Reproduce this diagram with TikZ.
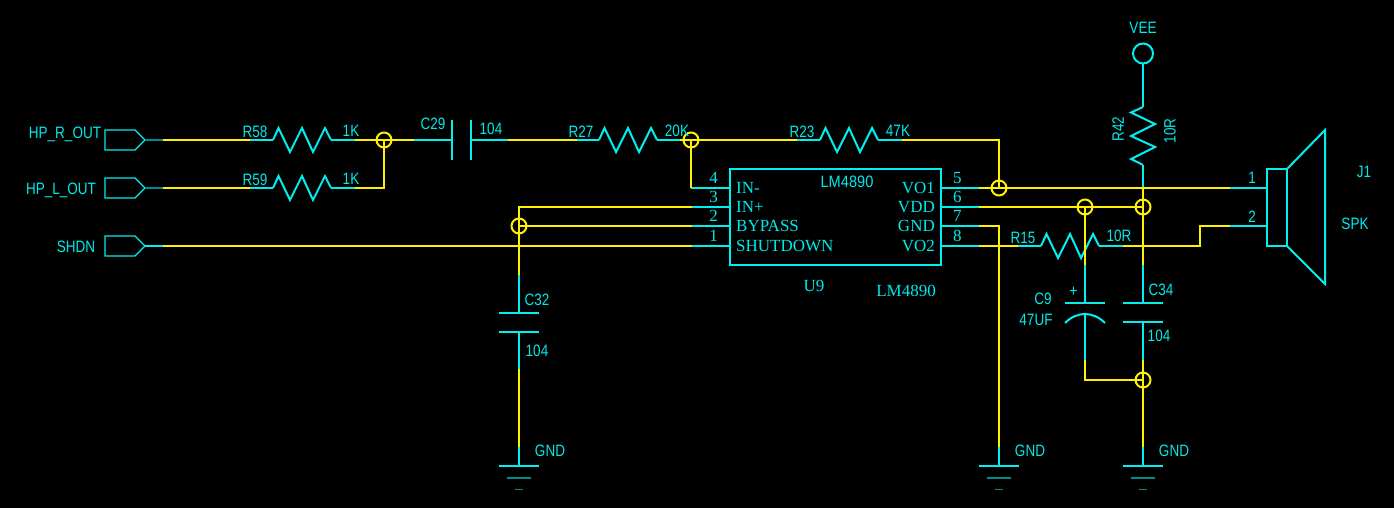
\documentclass[tikz,border=0pt]{standalone}
\usepackage{fontspec}
\usepackage{tikz}
\usetikzlibrary{positioning}
\setmainfont{Liberation Serif}
\newfontfamily\cadfont[FakeStretch=0.82]{Liberation Sans}
\definecolor{partcyan}{HTML}{00F0F0}
\definecolor{textcyan}{HTML}{00EAEA}
\definecolor{stubteal}{HTML}{008C8C}
\tikzset{
  part/.style = {draw=partcyan, line width=2pt},
  wire/.style = {draw=yellow, line width=2pt},
  stub/.style = {draw=stubteal, line width=2pt},
  lbl/.style = {text=textcyan, inner sep=0pt, font=\cadfont\fontsize{16.5}{18}\selectfont},
  pinlbl/.style = {text=textcyan, inner sep=0pt, font=\fontsize{17}{18}\selectfont},
  junction/.style = {circle, draw=yellow, line width=2pt, minimum size=15pt, inner sep=0pt},
  resistor/.pic = {
    \draw[part] (0,0) coordinate (-a) -- (5.5,-12) -- (17,12) -- (29,-12) -- (40,12) -- (52,-12) -- (58,0) coordinate (-b);
  },
  port/.pic = {
    \draw[draw=partcyan, line width=1.3pt] (0,-10) -- (30,-10) -- (40,0) coordinate (-tip) -- (30,10) -- (0,10) -- cycle;
  },
  capacitor/.pic = {
    \draw[part] (-20,-9.5) -- (20,-9.5);
    \draw[part] (-20,9.5) -- (20,9.5);
    \coordinate (-a) at (0,-9.5);
    \coordinate (-b) at (0,9.5);
  },
  polcap/.pic = {
    \draw[part] (-20,-9.5) -- (20,-9.5);
    \draw[part] (-20,10.5) .. controls (-8,-1.5) and (8,-1.5) .. (20,10.5);
    \coordinate (-a) at (0,-9.5);
    \coordinate (-b) at (0,1.5);
  },
  ground/.pic = {
    \coordinate (-a) at (0,0);
    \draw[draw=partcyan, line width=1.3pt] (-20,0) -- (20,0);
    \draw[draw=stubteal, line width=2pt] (-12,12) -- (12,12);
    \draw[draw=stubteal, line width=1.3pt] (-4,23.5) -- (4,23.5);
  }
}
\begin{document}
\begin{tikzpicture}[x=1pt, y=-1pt]
     \fill[black] (0,0) rectangle (1394,508);

     % parts
     \pic (HPR) at (105,140) {port};
     \pic (HPL) at (105,188) {port};
     \pic (SHD) at (105,246) {port};
     \pic (R58) at (273,140) {resistor};
     \pic (R59) at (273,188) {resistor};
     \pic (R27) at (599,140) {resistor};
     \pic (R23) at (820,140) {resistor};
     \pic (R15) at (1041,246) {resistor};
     \pic[rotate=-90, yscale=-1] (R42) at (1143,107) {resistor};
     \pic[rotate=90] (C29) at (461.5,140) {capacitor};
     \pic (C32) at (519,322.5) {capacitor};
     \pic (C34) at (1143,312.5) {capacitor};
     \pic (C9) at (1085,312.5) {polcap};
     \pic (G1) at (519,466) {ground};
     \pic (G2) at (999,466) {ground};
     \pic (G3) at (1143,466) {ground};
     \node[draw=partcyan, line width=2pt, minimum width=211pt, minimum height=96pt, inner sep=0pt] (U9) at (835.5,217) {};
     \node[circle, draw=partcyan, line width=2pt, minimum size=20pt, inner sep=0pt] (VEE) at (1143,53.5) {};
     \draw[part] (1267,169) rectangle (1287,246);
     \draw[part] (1287,169) -- (1325,130) -- (1325,284) -- (1287,246);

     % junctions
     \node[junction] (j1) at (384,140) {};
     \node[junction] (j2) at (691,140) {};
     \node[junction] (j3) at (519,226) {};
     \node[junction] (j4) at (999,188) {};
     \node[junction] (j5) at (1085,207) {};
     \node[junction] (j6) at (1143,207) {};
     \node[junction] (j7) at (1143,380) {};

     % pins on the chip and speaker
     \coordinate (p1) at (730,246);
     \coordinate (p2) at (730,226);
     \coordinate (p3) at (730,207);
     \coordinate (p4) at (730,188);
     \coordinate (p5) at (941,188);
     \coordinate (p6) at (941,207);
     \coordinate (p7) at (941,226);
     \coordinate (p8) at (941,246);
     \coordinate (s1) at (1268,188);
     \coordinate (s2) at (1268,226);

     % points where a line changes colour or turns
     \coordinate (a1) at (163,140);
     \coordinate (a2) at (250,140);
     \coordinate (a3) at (355,140);
     \coordinate (a4) at (414,140);
     \coordinate (b1) at (163,188);
     \coordinate (b2) at (250,188);
     \coordinate (b3) at (355,188);
     \coordinate (b4) at (384,188);
     \coordinate (c1) at (163,246);
     \coordinate (c2) at (692,246);
     \coordinate (d1) at (508,140);
     \coordinate (d2) at (577,140);
     \coordinate (d3) at (680,140);
     \coordinate (d4) at (797,140);
     \coordinate (d5) at (902,140);
     \coordinate (d6) at (999,140);
     \coordinate (e1) at (691,188);
     \coordinate (f1) at (692,207);
     \coordinate (f2) at (519,207);
     \coordinate (f3) at (519,275);
     \coordinate (f4) at (692,226);
     \coordinate (f5) at (519,369);
     \coordinate (f6) at (519,447);
     \coordinate (g1) at (979,188);
     \coordinate (g2) at (1230,188);
     \coordinate (g3) at (979,207);
     \coordinate (g4) at (979,226);
     \coordinate (g5) at (999,226);
     \coordinate (g6) at (999,447);
     \coordinate (g7) at (979,246);
     \coordinate (g8) at (1018,246);
     \coordinate (g9) at (1123,246);
     \coordinate (g10) at (1200,246);
     \coordinate (g11) at (1200,226);
     \coordinate (g12) at (1230,226);
     \coordinate (h1) at (1143,188);
     \coordinate (h2) at (1143,265);
     \coordinate (h3) at (1143,360);
     \coordinate (h4) at (1143,447);
     \coordinate (i1) at (1085,265);
     \coordinate (i2) at (1085,360);
     \coordinate (i3) at (1085,380);

     % cyan leads
     \draw[stub] (HPR-tip) -- (a1);
     \draw[stub] (HPL-tip) -- (b1);
     \draw[part, line width=1.3pt] (SHD-tip) -- (c1);
     \draw[part] (a2) -- (R58-a);
     \draw[part] (R58-b) -- (a3);
     \draw[part] (b2) -- (R59-a);
     \draw[part] (R59-b) -- (b3);
     \draw[part] (a4) -- (C29-a);
     \draw[part] (C29-b) -- (d1);
     \draw[part] (d2) -- (R27-a);
     \draw[part] (R27-b) -- (d3);
     \draw[part] (d4) -- (R23-a);
     \draw[part] (R23-b) -- (d5);
     \draw[part] (e1) -- (p4);
     \draw[part] (f1) -- (p3);
     \draw[part] (f4) -- (p2);
     \draw[part] (c2) -- (p1);
     \draw[part] (p5) -- (g1);
     \draw[part] (p6) -- (g3);
     \draw[part] (p7) -- (g4);
     \draw[part] (p8) -- (g7);
     \draw[part] (g8) -- (R15-a);
     \draw[part] (R15-b) -- (g9);
     \draw[part] (g2) -- (s1);
     \draw[part] (g12) -- (s2);
     \draw[part] (VEE) -- (R42-a);
     \draw[part] (R42-b) -- (h1);
     \draw[part] (f3) -- (C32-a);
     \draw[part] (C32-b) -- (f5);
     \draw[part] (h2) -- (C34-a);
     \draw[part] (C34-b) -- (h3);
     \draw[part] (i1) -- (C9-a);
     \draw[part] (C9-b) -- (i2);
     \draw[part, line width=1.3pt] (f6) -- (G1-a);
     \draw[part, line width=1.3pt] (g6) -- (G2-a);
     \draw[part, line width=1.3pt] (h4) -- (G3-a);

     % yellow nets
     \draw[wire] (a1) -- (a2);
     \draw[wire] (b1) -- (b2);
     \draw[wire] (c1) -- (c2);
     \draw[wire] (a3) -- (j1.center) -- (a4);
     \draw[wire] (b3) -- (b4) -- (j1.center);
     \draw[wire] (d1) -- (d2);
     \draw[wire] (d3) -- (j2.center) -- (d4);
     \draw[wire] (j2.center) -- (e1);
     \draw[wire] (d5) -- (d6) -- (j4.center);
     \draw[wire] (f1) -- (f2) -- (f3);
     \draw[wire] (f4) -- (j3.center);
     \draw[wire] (f5) -- (f6);
     \draw[wire] (g1) -- (j4.center) -- (g2);
     \draw[wire] (g3) -- (j5.center) -- (j6.center);
     \draw[wire] (g4) -- (g5) -- (g6);
     \draw[wire] (g7) -- (g8);
     \draw[wire] (g9) -- (g10) -- (g11) -- (g12);
     \draw[wire] (h1) -- (j6.center) -- (h2);
     \draw[wire] (j5.center) -- (i1);
     \draw[wire] (h3) -- (j7.center) -- (h4);
     \draw[wire] (i2) -- (i3) -- (j7.center);

     % chip texts
     \node[pinlbl] (t1) [right=6pt of p4] {IN-};
     \node[pinlbl] (t2) [right=6pt of p3] {IN+};
     \node[pinlbl] (t3) [right=6pt of p2] {BYPASS};
     \node[pinlbl] (t4) [right=6pt of p1] {SHUTDOWN};
     \node[pinlbl] (t5) [left=6pt of p5] {VO1};
     \node[pinlbl] (t6) [left=6pt of p6] {VDD};
     \node[pinlbl] (t7) [left=6pt of p7] {GND};
     \node[pinlbl] (t8) [left=6pt of p8] {VO2};
     \node[pinlbl] (n4) [above left=4pt and 12pt of p4] {4};
     \node[pinlbl] (n3) [above left=4pt and 12pt of p3] {3};
     \node[pinlbl] (n2) [above left=4pt and 12pt of p2] {2};
     \node[pinlbl] (n1) [above left=4pt and 12pt of p1] {1};
     \node[pinlbl] (n5) [above right=4pt and 12pt of p5] {5};
     \node[pinlbl] (n6) [above right=4pt and 12pt of p6] {6};
     \node[pinlbl] (n7) [above right=4pt and 12pt of p7] {7};
     \node[pinlbl] (n8) [above right=4pt and 12pt of p8] {8};
     \node[pinlbl] (u9) at (814,286) {U9};
     \node[pinlbl] (lm2) at (906,291) {LM4890};
     \node[lbl, xscale=1.08] (lm1) at (847,182) {LM4890};

     % part and net texts
     \node[lbl] (hprt) at (65,134) {HP\_R\_OUT};
     \node[lbl] (hplt) at (61,190) {HP\_L\_OUT};
     \node[lbl] (shdt) at (76,247) {SHDN};
     \node[lbl] (r58t) at (255,132) {R58};
     \node[lbl] (r58v) at (351,131) {1K};
     \node[lbl] (r59t) at (255,180) {R59};
     \node[lbl] (r59v) at (351,179) {1K};
     \node[lbl] (c29t) at (433,124) {C29};
     \node[lbl] (c29v) at (491,129) {104};
     \node[lbl] (r27t) at (581,132) {R27};
     \node[lbl] (r27v) at (677,131) {20K};
     \node[lbl] (r23t) at (802,132) {R23};
     \node[lbl] (r23v) at (898,131) {47K};
     \node[lbl] (c32t) at (537,300) {C32};
     \node[lbl] (c32v) at (537,351) {104};
     \node[lbl] (g1t) at (550,451) {GND};
     \node[lbl] (g2t) at (1030,451) {GND};
     \node[lbl] (g3t) at (1174,451) {GND};
     \node[lbl] (r15t) at (1023,238) {R15};
     \node[lbl] (r15v) at (1119,236) {10R};
     \node[lbl] (c9t) at (1043,299) {C9};
     \node[lbl] (c9v) at (1036,320) {47UF};
     \node[lbl] (c34t) at (1161,290) {C34};
     \node[lbl] (c34v) at (1159,336) {104};
     \node[lbl] (plus) at (1073.5,292) {+};
     \node[lbl] (veet) at (1143,28) {VEE};
     \node[lbl, rotate=90] (r42t) at (1118,129) {R42};
     \node[lbl, rotate=90] (r42v) at (1170,131) {10R};
     \node[lbl] (sp1) at (1252,178) {1};
     \node[lbl] (sp2) at (1252,217) {2};
     \node[lbl] (j1t) at (1364,172) {J1};
     \node[lbl] (spkt) at (1355,224) {SPK};
\end{tikzpicture}
\end{document}
